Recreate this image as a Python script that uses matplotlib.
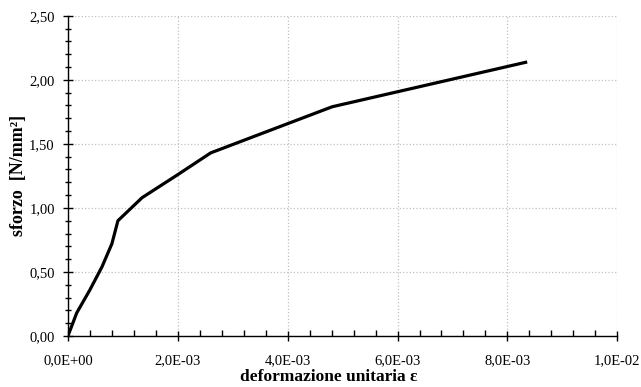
import numpy as np
import matplotlib
matplotlib.use("Agg")
import matplotlib.pyplot as plt
from matplotlib.ticker import MultipleLocator, FuncFormatter

plt.rcParams['font.family'] = ['Liberation Serif', 'DejaVu Serif']

# stress-strain curve
eps = [0.0, 0.00016, 0.0004, 0.00062, 0.0008, 0.00091, 0.00135, 0.0020, 0.0026, 0.00481, 0.00836]
sigma = [0.0, 0.18, 0.36, 0.54, 0.72, 0.90, 1.08, 1.26, 1.43, 1.79, 2.14]

fig = plt.figure(figsize=(6.41, 3.87), dpi=100)
ax = fig.add_axes([0.106, 0.132, 0.857, 0.827])

ax.plot(eps, sigma, color='black', lw=2.3, solid_joinstyle='round', solid_capstyle='butt', zorder=3)

ax.set_xlim(0, 0.01)
ax.set_ylim(0, 2.5)
ax.xaxis.set_major_locator(MultipleLocator(0.002))
ax.xaxis.set_minor_locator(MultipleLocator(0.0004))
ax.yaxis.set_major_locator(MultipleLocator(0.5))
ax.yaxis.set_minor_locator(MultipleLocator(0.1))

ax.xaxis.set_major_formatter(FuncFormatter(lambda v, p: f"{v:.1E}".replace('.', ',')))
ax.yaxis.set_major_formatter(FuncFormatter(lambda v, p: f"{v:.2f}".replace('.', ',')))

ax.grid(True, which='major', color='#c0c0c0', linestyle=':', linewidth=0.9)
for s in ['top', 'right']:
    ax.spines[s].set_visible(False)
ax.spines['left'].set_linewidth(1.0)
ax.spines['bottom'].set_linewidth(1.0)

ax.tick_params(axis='both', which='major', direction='inout', length=7, width=1.0, labelsize=10.5)
ax.tick_params(axis='x', which='major', pad=10)
ax.tick_params(axis='y', which='major', pad=6)
ax.tick_params(axis='x', which='minor', direction='in', length=4, width=1.0)
ax.tick_params(axis='y', which='minor', direction='inout', length=5, width=1.0)

ax.set_xlabel('deformazione unitaria ε', fontsize=12.5, fontweight='bold')
ax.xaxis.set_label_coords(0.475, -0.103)
ax.set_ylabel('sforzo  [N/mm²]', fontsize=13, fontweight='bold')
ax.yaxis.set_label_coords(-0.075, 0.5)

fig.savefig('out.png', dpi=100)
